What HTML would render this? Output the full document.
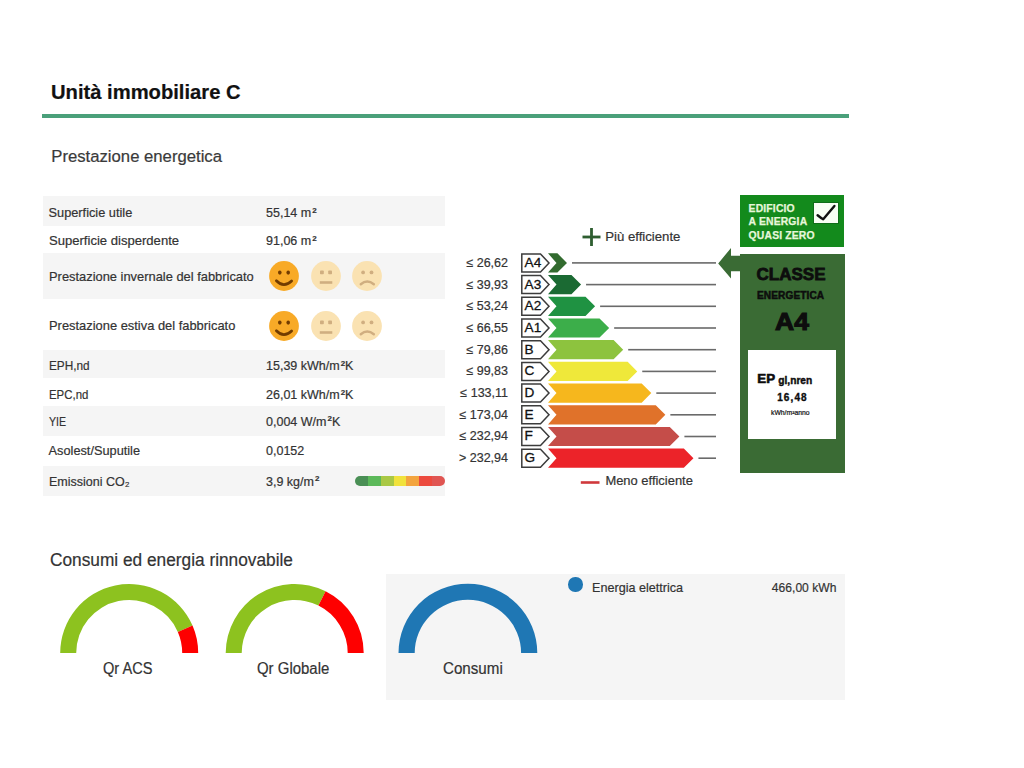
<!DOCTYPE html>
<html><head><meta charset="utf-8"><style>
html,body{margin:0;padding:0;background:#fff;}
body{width:1024px;height:768px;position:relative;overflow:hidden;font-family:"Liberation Sans", sans-serif;}
.t{position:absolute;white-space:nowrap;line-height:1;font-family:"Liberation Sans", sans-serif;-webkit-text-stroke:0.2px currentColor;}
</style></head><body>
<div class="t" style="left:51.00px;top:82.00px;font-size:20.2px;font-weight:700;color:#111;">Unità immobiliare C</div>
<div style="position:absolute;left:42px;top:114px;width:807px;height:4px;background:#4aa07a;"></div>
<div class="t" style="left:51.30px;top:148.86px;font-size:16.7px;font-weight:400;color:#3a3a3a;">Prestazione energetica</div>
<div style="position:absolute;left:43px;top:196px;width:402px;height:30px;background:#f5f5f5;"></div>
<div style="position:absolute;left:43px;top:252.5px;width:402px;height:46.5px;background:#f5f5f5;"></div>
<div style="position:absolute;left:43px;top:350px;width:402px;height:28px;background:#f5f5f5;"></div>
<div style="position:absolute;left:43px;top:406px;width:402px;height:30px;background:#f5f5f5;"></div>
<div style="position:absolute;left:43px;top:466px;width:402px;height:30px;background:#f5f5f5;"></div>
<div class="t" style="left:48.60px;top:207.01px;font-size:12.75px;font-weight:400;color:#333;">Superficie utile</div>
<div class="t" style="left:266.00px;top:207.22px;font-size:12.5px;font-weight:400;color:#333;">55,14 m<span style="font-weight:700;font-size:8px;position:relative;top:-4.6px;margin-left:1px">2</span></div>
<div class="t" style="left:48.60px;top:235.01px;font-size:12.75px;font-weight:400;color:#333;transform:scaleX(1.025);transform-origin:0 0;">Superficie disperdente</div>
<div class="t" style="left:266.00px;top:235.22px;font-size:12.5px;font-weight:400;color:#333;">91,06 m<span style="font-weight:700;font-size:8px;position:relative;top:-4.6px;margin-left:1px">2</span></div>
<div class="t" style="left:48.60px;top:271.01px;font-size:12.75px;font-weight:400;color:#333;transform:scaleX(1.01);transform-origin:0 0;">Prestazione invernale del fabbricato</div>
<div class="t" style="left:48.60px;top:320.01px;font-size:12.75px;font-weight:400;color:#333;transform:scaleX(1.011);transform-origin:0 0;">Prestazione estiva del fabbricato</div>
<div class="t" style="left:48.60px;top:360.01px;font-size:12.75px;font-weight:400;color:#333;transform:scaleX(0.925);transform-origin:0 0;">EPH,nd</div>
<div class="t" style="left:266.00px;top:360.22px;font-size:12.5px;font-weight:400;color:#333;">15,39 kWh/m<span style="font-weight:700;font-size:8px;position:relative;top:-4.6px;margin-left:1px">2</span>K</div>
<div class="t" style="left:48.60px;top:389.01px;font-size:12.75px;font-weight:400;color:#333;transform:scaleX(0.895);transform-origin:0 0;">EPC,nd</div>
<div class="t" style="left:266.00px;top:389.22px;font-size:12.5px;font-weight:400;color:#333;">26,01 kWh/m<span style="font-weight:700;font-size:8px;position:relative;top:-4.6px;margin-left:1px">2</span>K</div>
<div class="t" style="left:48.60px;top:415.61px;font-size:12.75px;font-weight:400;color:#333;transform:scaleX(0.83);transform-origin:0 0;">YIE</div>
<div class="t" style="left:266.00px;top:415.82px;font-size:12.5px;font-weight:400;color:#333;">0,004 W/m<span style="font-weight:700;font-size:8px;position:relative;top:-4.6px;margin-left:1px">2</span>K</div>
<div class="t" style="left:48.60px;top:445.01px;font-size:12.75px;font-weight:400;color:#333;">Asolest/Suputile</div>
<div class="t" style="left:266.00px;top:445.22px;font-size:12.5px;font-weight:400;color:#333;">0,0152</div>
<div class="t" style="left:48.60px;top:475.61px;font-size:12.75px;font-weight:400;color:#333;transform:scaleX(0.98);transform-origin:0 0;">Emissioni CO₂</div>
<div class="t" style="left:266.00px;top:475.82px;font-size:12.5px;font-weight:400;color:#333;">3,9 kg/m<span style="font-weight:700;font-size:8px;position:relative;top:-4.6px;margin-left:1px">2</span></div>
<svg style="position:absolute;left:268.4px;top:260.0px" width="32" height="32" viewBox="-16 -16 32 32"><circle r="14.9" fill="#f8aa27"/><ellipse cx="-4.2" cy="-3.4" rx="1.8" ry="2.1" fill="#723c00"/><ellipse cx="4.2" cy="-3.4" rx="1.8" ry="2.1" fill="#723c00"/><path d="M-7.6 4.7 Q-0.2 12.4 7.6 4.9" stroke="#723c00" stroke-width="2.8" fill="none" stroke-linecap="round"/></svg>
<svg style="position:absolute;left:310.2px;top:260.0px" width="32" height="32" viewBox="-16 -16 32 32"><circle r="14.9" fill="#fae2b2"/><rect x="-6" y="-5.6" width="3.8" height="3.8" rx="0.8" fill="#d0ae80"/><rect x="2.2" y="-5.6" width="3.8" height="3.8" rx="0.8" fill="#d0ae80"/><rect x="-6.2" y="5.2" width="12.5" height="2.6" fill="#d0ae80"/></svg>
<svg style="position:absolute;left:351.2px;top:260.0px" width="32" height="32" viewBox="-16 -16 32 32"><circle r="14.9" fill="#fae2b2"/><circle cx="-3.9" cy="-3.6" r="1.9" fill="#d0ae80"/><circle cx="4.5" cy="-3.6" r="1.9" fill="#d0ae80"/><path d="M-6.2 8.2 Q0.2 2.8 6.8 8.2" stroke="#d0ae80" stroke-width="2.5" fill="none" stroke-linecap="round"/></svg>
<svg style="position:absolute;left:268.4px;top:310.2px" width="32" height="32" viewBox="-16 -16 32 32"><circle r="14.9" fill="#f8aa27"/><ellipse cx="-4.2" cy="-3.4" rx="1.8" ry="2.1" fill="#723c00"/><ellipse cx="4.2" cy="-3.4" rx="1.8" ry="2.1" fill="#723c00"/><path d="M-7.6 4.7 Q-0.2 12.4 7.6 4.9" stroke="#723c00" stroke-width="2.8" fill="none" stroke-linecap="round"/></svg>
<svg style="position:absolute;left:310.2px;top:310.2px" width="32" height="32" viewBox="-16 -16 32 32"><circle r="14.9" fill="#fae2b2"/><rect x="-6" y="-5.6" width="3.8" height="3.8" rx="0.8" fill="#d0ae80"/><rect x="2.2" y="-5.6" width="3.8" height="3.8" rx="0.8" fill="#d0ae80"/><rect x="-6.2" y="5.2" width="12.5" height="2.6" fill="#d0ae80"/></svg>
<svg style="position:absolute;left:351.2px;top:310.2px" width="32" height="32" viewBox="-16 -16 32 32"><circle r="14.9" fill="#fae2b2"/><circle cx="-3.9" cy="-3.6" r="1.9" fill="#d0ae80"/><circle cx="4.5" cy="-3.6" r="1.9" fill="#d0ae80"/><path d="M-6.2 8.2 Q0.2 2.8 6.8 8.2" stroke="#d0ae80" stroke-width="2.5" fill="none" stroke-linecap="round"/></svg>
<div style="position:absolute;left:355px;top:475.6px;width:90px;height:10px;border-radius:5px;overflow:hidden;display:flex"><div style="flex:1;background:#4a8f55"></div><div style="flex:1;background:#5cb95a"></div><div style="flex:1;background:#a9c845"></div><div style="flex:1;background:#f1e23c"></div><div style="flex:1;background:#f3a43e"></div><div style="flex:1;background:#ec4a3e"></div><div style="flex:1;background:#e05552"></div></div>
<svg style="position:absolute;left:0;top:0" width="1024" height="768"><path d="M521.8 253.90 L540.5 253.90 L549 262.90 L540.5 271.90 L521.8 271.90 Z" fill="#fff" stroke="#3c3c3c" stroke-width="1.5"/><path d="M548 253.30 L557.40 253.30 L567.00 262.90 L557.40 272.50 L548 272.50 L556.5 262.90 Z" fill="#326b2f"/><rect x="572.00" y="262.10" width="144.00" height="1.6" fill="#6a6a6a"/><path d="M521.8 275.60 L540.5 275.60 L549 284.60 L540.5 293.60 L521.8 293.60 Z" fill="#fff" stroke="#3c3c3c" stroke-width="1.5"/><path d="M548 275.00 L571.45 275.00 L581.05 284.60 L571.45 294.20 L548 294.20 L556.5 284.60 Z" fill="#1b6a33"/><rect x="586.05" y="283.80" width="129.95" height="1.6" fill="#6a6a6a"/><path d="M521.8 297.30 L540.5 297.30 L549 306.30 L540.5 315.30 L521.8 315.30 Z" fill="#fff" stroke="#3c3c3c" stroke-width="1.5"/><path d="M548 296.70 L585.50 296.70 L595.10 306.30 L585.50 315.90 L548 315.90 L556.5 306.30 Z" fill="#1f9242"/><rect x="600.10" y="305.50" width="115.90" height="1.6" fill="#6a6a6a"/><path d="M521.8 319.00 L540.5 319.00 L549 328.00 L540.5 337.00 L521.8 337.00 Z" fill="#fff" stroke="#3c3c3c" stroke-width="1.5"/><path d="M548 318.40 L599.55 318.40 L609.15 328.00 L599.55 337.60 L548 337.60 L556.5 328.00 Z" fill="#3cae4a"/><rect x="614.15" y="327.20" width="101.85" height="1.6" fill="#6a6a6a"/><path d="M521.8 340.70 L540.5 340.70 L549 349.70 L540.5 358.70 L521.8 358.70 Z" fill="#fff" stroke="#3c3c3c" stroke-width="1.5"/><path d="M548 340.10 L613.60 340.10 L623.20 349.70 L613.60 359.30 L548 359.30 L556.5 349.70 Z" fill="#8dc33e"/><rect x="628.20" y="348.90" width="87.80" height="1.6" fill="#6a6a6a"/><path d="M521.8 362.40 L540.5 362.40 L549 371.40 L540.5 380.40 L521.8 380.40 Z" fill="#fff" stroke="#3c3c3c" stroke-width="1.5"/><path d="M548 361.80 L627.65 361.80 L637.25 371.40 L627.65 381.00 L548 381.00 L556.5 371.40 Z" fill="#efe83a"/><rect x="642.25" y="370.60" width="73.75" height="1.6" fill="#6a6a6a"/><path d="M521.8 384.10 L540.5 384.10 L549 393.10 L540.5 402.10 L521.8 402.10 Z" fill="#fff" stroke="#3c3c3c" stroke-width="1.5"/><path d="M548 383.50 L641.70 383.50 L651.30 393.10 L641.70 402.70 L548 402.70 L556.5 393.10 Z" fill="#f6b71d"/><rect x="656.30" y="392.30" width="59.70" height="1.6" fill="#6a6a6a"/><path d="M521.8 405.80 L540.5 405.80 L549 414.80 L540.5 423.80 L521.8 423.80 Z" fill="#fff" stroke="#3c3c3c" stroke-width="1.5"/><path d="M548 405.20 L655.75 405.20 L665.35 414.80 L655.75 424.40 L548 424.40 L556.5 414.80 Z" fill="#e0722a"/><rect x="670.35" y="414.00" width="45.65" height="1.6" fill="#6a6a6a"/><path d="M521.8 427.50 L540.5 427.50 L549 436.50 L540.5 445.50 L521.8 445.50 Z" fill="#fff" stroke="#3c3c3c" stroke-width="1.5"/><path d="M548 426.90 L669.80 426.90 L679.40 436.50 L669.80 446.10 L548 446.10 L556.5 436.50 Z" fill="#c54d49"/><rect x="684.40" y="435.70" width="31.60" height="1.6" fill="#6a6a6a"/><path d="M521.8 449.20 L540.5 449.20 L549 458.20 L540.5 467.20 L521.8 467.20 Z" fill="#fff" stroke="#3c3c3c" stroke-width="1.5"/><path d="M548 448.60 L683.85 448.60 L693.45 458.20 L683.85 467.80 L548 467.80 L556.5 458.20 Z" fill="#ec2329"/><rect x="698.45" y="457.40" width="17.55" height="1.6" fill="#6a6a6a"/><rect x="582.5" y="235.6" width="18" height="2.8" fill="#2e5e30"/><rect x="590.1" y="228" width="2.8" height="18" fill="#2e5e30"/><rect x="580.8" y="481.2" width="18.7" height="2.6" fill="#d0393c"/><path d="M718.2 263.4 L731 248 L731 255.7 L741 255.7 L741 271.2 L731 271.2 L731 278.6 Z" fill="#3a6b34"/></svg>
<div class="t" style="right:516.00px;top:256.82px;font-size:12.5px;font-weight:400;color:#333;">≤ 26,62</div>
<div class="t" style="left:524.60px;top:255.89px;font-size:13.6px;font-weight:400;color:#111;-webkit-text-stroke:0.3px #111;">A4</div>
<div class="t" style="right:516.00px;top:278.52px;font-size:12.5px;font-weight:400;color:#333;">≤ 39,93</div>
<div class="t" style="left:524.60px;top:277.59px;font-size:13.6px;font-weight:400;color:#111;-webkit-text-stroke:0.3px #111;">A3</div>
<div class="t" style="right:516.00px;top:300.22px;font-size:12.5px;font-weight:400;color:#333;">≤ 53,24</div>
<div class="t" style="left:524.60px;top:299.29px;font-size:13.6px;font-weight:400;color:#111;-webkit-text-stroke:0.3px #111;">A2</div>
<div class="t" style="right:516.00px;top:321.92px;font-size:12.5px;font-weight:400;color:#333;">≤ 66,55</div>
<div class="t" style="left:524.60px;top:320.99px;font-size:13.6px;font-weight:400;color:#111;-webkit-text-stroke:0.3px #111;">A1</div>
<div class="t" style="right:516.00px;top:343.62px;font-size:12.5px;font-weight:400;color:#333;">≤ 79,86</div>
<div class="t" style="left:524.60px;top:342.69px;font-size:13.6px;font-weight:400;color:#111;-webkit-text-stroke:0.3px #111;">B</div>
<div class="t" style="right:516.00px;top:365.32px;font-size:12.5px;font-weight:400;color:#333;">≤ 99,83</div>
<div class="t" style="left:524.60px;top:364.39px;font-size:13.6px;font-weight:400;color:#111;-webkit-text-stroke:0.3px #111;">C</div>
<div class="t" style="right:516.00px;top:387.02px;font-size:12.5px;font-weight:400;color:#333;">≤ 133,11</div>
<div class="t" style="left:524.60px;top:386.09px;font-size:13.6px;font-weight:400;color:#111;-webkit-text-stroke:0.3px #111;">D</div>
<div class="t" style="right:516.00px;top:408.72px;font-size:12.5px;font-weight:400;color:#333;">≤ 173,04</div>
<div class="t" style="left:524.60px;top:407.79px;font-size:13.6px;font-weight:400;color:#111;-webkit-text-stroke:0.3px #111;">E</div>
<div class="t" style="right:516.00px;top:430.42px;font-size:12.5px;font-weight:400;color:#333;">≤ 232,94</div>
<div class="t" style="left:524.60px;top:429.49px;font-size:13.6px;font-weight:400;color:#111;-webkit-text-stroke:0.3px #111;">F</div>
<div class="t" style="right:516.00px;top:452.12px;font-size:12.5px;font-weight:400;color:#333;">&gt; 232,94</div>
<div class="t" style="left:524.60px;top:451.19px;font-size:13.6px;font-weight:400;color:#111;-webkit-text-stroke:0.3px #111;">G</div>
<div class="t" style="left:605.20px;top:230.03px;font-size:13.2px;font-weight:400;color:#333;">Più efficiente</div>
<div class="t" style="left:605.40px;top:475.34px;font-size:12.95px;font-weight:400;color:#333;">Meno efficiente</div>
<div style="position:absolute;left:740px;top:195.3px;width:104px;height:51.4px;background:#138a1c;"></div>
<div class="t" style="left:748.60px;top:203.80px;font-size:10.4px;font-weight:700;color:#e6f7da;letter-spacing:0.15px;-webkit-text-stroke:0.25px #e6f7da;">EDIFICIO</div>
<div class="t" style="left:748.60px;top:217.40px;font-size:10.4px;font-weight:700;color:#e6f7da;letter-spacing:0.15px;-webkit-text-stroke:0.25px #e6f7da;">A ENERGIA</div>
<div class="t" style="left:748.60px;top:231.00px;font-size:10.4px;font-weight:700;color:#e6f7da;letter-spacing:0.15px;-webkit-text-stroke:0.25px #e6f7da;">QUASI ZERO</div>
<div style="position:absolute;left:813.2px;top:202.4px;width:25.4px;height:21.4px;background:#0f6e18;"></div>
<div style="position:absolute;left:814px;top:203.2px;width:23.8px;height:19.8px;background:#f8fff4;"></div>
<svg style="position:absolute;left:814px;top:203.3px" width="24" height="20" viewBox="0 0 24 20"><path d="M3.6 12.2 Q7 15 9.2 16.3 L20.4 3" stroke="#111" stroke-width="2.4" fill="none" stroke-linecap="round" stroke-linejoin="round"/></svg>
<div style="position:absolute;left:740px;top:253.5px;width:104.5px;height:219.6px;background:#3a6b34;"></div>
<div class="t" style="left:591.00px;width:400px;text-align:center;top:265.71px;font-size:17px;font-weight:700;color:#0d0d0d;-webkit-text-stroke:0.8px #0d0d0d;">CLASSE</div>
<div class="t" style="left:590.60px;width:400px;text-align:center;top:291.25px;font-size:10.1px;font-weight:700;color:#0d0d0d;-webkit-text-stroke:0.5px #0d0d0d;letter-spacing:0.1px;">ENERGETICA</div>
<div class="t" style="left:592.00px;width:400px;text-align:center;top:310.62px;font-size:23.6px;font-weight:700;color:#0d0d0d;-webkit-text-stroke:1.1px #0d0d0d;transform:scaleX(1.12);transform-origin:50% 0;">A4</div>
<div style="position:absolute;left:748.2px;top:350px;width:88px;height:88.5px;background:#fff;"></div>
<div class="t" style="left:757.30px;top:372.34px;font-size:13.3px;font-weight:700;color:#0d0d0d;-webkit-text-stroke:0.6px #0d0d0d;">EP</div>
<div class="t" style="left:778.30px;top:376.47px;font-size:10.2px;font-weight:700;color:#0d0d0d;-webkit-text-stroke:0.4px #0d0d0d;">gl,nren</div>
<div class="t" style="left:777.20px;top:392.84px;font-size:10px;font-weight:700;color:#0d0d0d;letter-spacing:1.1px;-webkit-text-stroke:0.35px #0d0d0d;">16,48</div>
<div class="t" style="left:771.00px;top:409.74px;font-size:6.8px;font-weight:400;color:#111;-webkit-text-stroke:0.2px #111;">kWh/m²anno</div>
<div class="t" style="left:50.40px;top:551.31px;font-size:18.3px;font-weight:400;color:#333;transform:scaleX(0.945);transform-origin:0 0;">Consumi ed energia rinnovabile</div>
<div style="position:absolute;left:385.5px;top:574px;width:459.5px;height:125.5px;background:#f5f5f5;"></div>
<svg style="position:absolute;left:0;top:0" width="1024" height="768"><path d="M60.20 653.00 A69 69 0 0 1 192.53 625.60 L177.84 631.95 A53 53 0 0 0 76.20 653.00 Z" fill="#8dc21f"/><path d="M192.53 625.60 A69 69 0 0 1 198.20 653.00 L182.20 653.00 A53 53 0 0 0 177.84 631.95 Z" fill="#fe0000"/></svg>
<svg style="position:absolute;left:0;top:0" width="1024" height="768"><path d="M225.70 653.00 A69 69 0 0 1 325.60 591.30 L318.43 605.61 A53 53 0 0 0 241.70 653.00 Z" fill="#8dc21f"/><path d="M325.60 591.30 A69 69 0 0 1 363.70 653.00 L347.70 653.00 A53 53 0 0 0 318.43 605.61 Z" fill="#fe0000"/></svg>
<svg style="position:absolute;left:0;top:0" width="1024" height="768"><path d="M398.50 653.00 A69.4 69.4 0 0 1 537.30 653.00 L521.10 653.00 A53.2 53.2 0 0 0 414.70 653.00 Z" fill="#1f77b4"/></svg>
<div class="t" style="left:103.00px;top:661.03px;font-size:15.8px;font-weight:400;color:#333;transform:scaleX(0.924);transform-origin:0 0;">Qr ACS</div>
<div class="t" style="left:256.90px;top:661.03px;font-size:15.8px;font-weight:400;color:#333;transform:scaleX(0.946);transform-origin:0 0;">Qr Globale</div>
<div class="t" style="left:442.60px;top:661.03px;font-size:15.8px;font-weight:400;color:#333;transform:scaleX(0.959);transform-origin:0 0;">Consumi</div>
<div style="position:absolute;left:568.2px;top:577.4px;width:14.4px;height:14.4px;border-radius:50%;background:#1f77b4"></div>
<div class="t" style="left:592.20px;top:581.40px;font-size:13px;font-weight:400;color:#333;transform:scaleX(0.97);transform-origin:0 0;">Energia elettrica</div>
<div class="t" style="right:187.20px;top:581.30px;font-size:13px;font-weight:400;color:#333;transform:scaleX(0.93);transform-origin:100% 0;">466,00 kWh</div>
</body></html>
